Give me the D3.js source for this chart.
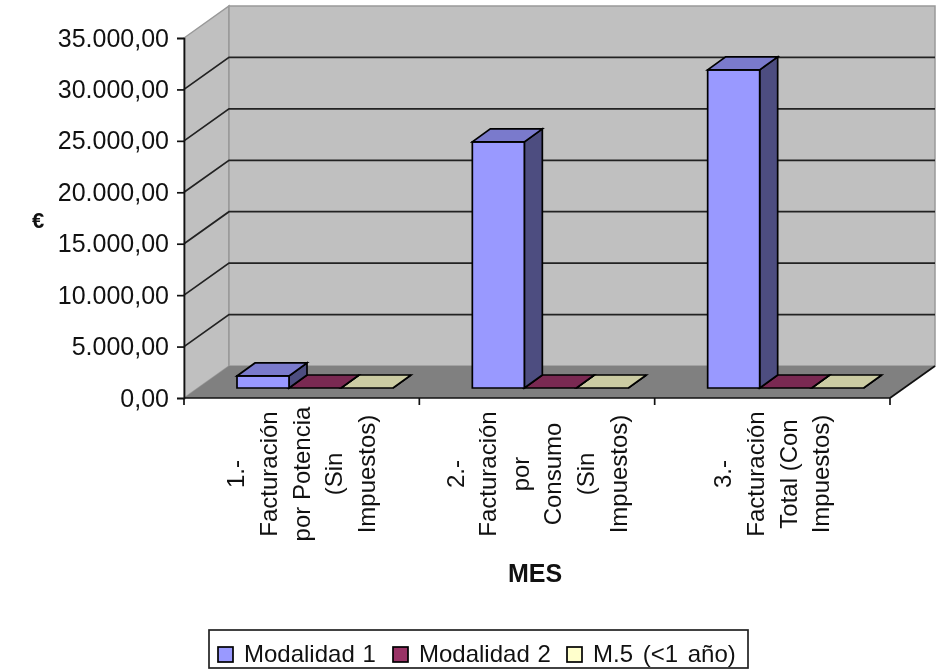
<!DOCTYPE html>
<html>
<head>
<meta charset="utf-8">
<script src="https://cdnjs.cloudflare.com/ajax/libs/d3/7.8.5/d3.min.js"></script>
<style>
  html, body { margin: 0; padding: 0; background: #fff; }
  svg { display: block; filter: blur(0.45px); }
  text { font-family: "Liberation Sans", Arial, sans-serif; fill: #111; }
</style>
</head>
<body>
<svg id="chart" width="951" height="670"></svg>
<script>
var categories = [
  ['1.-', 'Facturación', 'por Potencia', '(Sin', 'Impuestos)'],
  ['2.-', 'Facturación', 'por', 'Consumo', '(Sin', 'Impuestos)'],
  ['3.-', 'Facturación', 'Total (Con', 'Impuestos)']
];
var seriesNames = ['Modalidad 1', 'Modalidad 2', 'M.5 (<1 año)'];
var modalidad1 = [1170, 23930, 30930];
var modalidad2 = [0, 0, 0];
var modalidad5 = [0, 0, 0];
var yTicks = [0, 5000, 10000, 15000, 20000, 25000, 30000, 35000];
var tickLabels = ['0,00', '5.000,00', '10.000,00', '15.000,00', '20.000,00', '25.000,00', '30.000,00', '35.000,00'];
var seriesColors = ['#9999ff', '#993366', '#ffffcc'];

var svg = d3.select('#chart');

// depth of the floor and depth of the bars
var wallDx = 45, wallDy = -32;
var barDx = 18, barDy = -13;

var x = d3.scaleBand().domain([0, 1, 2]).range([184, 890]);
var y = d3.scaleLinear().domain([0, 35000]).range([398, 38]);
var barX = d3.scaleBand().domain([0, 1, 2]).range([53, 209]);
var floorGap = 10;

var pts = function(list) {
  return list.map(function(p) { return p.join(','); }).join(' ');
};

var poly = function(list, fill, stroke, sw) {
  return svg.append('polygon')
    .attr('points', pts(list))
    .attr('fill', fill)
    .attr('stroke', stroke || 'none')
    .attr('stroke-width', sw || 0);
};

var shade = function(color, k) {
  var c = d3.rgb(color);
  return d3.rgb(c.r * k, c.g * k, c.b * k).formatHex();
};

var xLeft = x.range()[0], xRight = x.range()[1];
var yTop = y(35000), yBase = y(0);

// walls and floor
poly([[xLeft, yTop], [xLeft + wallDx, yTop + wallDy], [xLeft + wallDx, yBase + wallDy], [xLeft, yBase]], '#c0c0c0', '#999', 1.5);
poly([[xLeft + wallDx, yTop + wallDy], [xRight + wallDx, yTop + wallDy], [xRight + wallDx, yBase + wallDy], [xLeft + wallDx, yBase + wallDy]], '#c0c0c0', '#999', 1.5);
poly([[xLeft, yBase], [xRight, yBase], [xRight + wallDx, yBase + wallDy], [xLeft + wallDx, yBase + wallDy]], '#808080');

// gridlines
yTicks.slice(1, -1).forEach(function(t) {
  svg.append('polyline')
    .attr('points', pts([[xLeft, y(t)], [xLeft + wallDx, y(t) + wallDy], [xRight + wallDx, y(t) + wallDy]]))
    .attr('fill', 'none')
    .attr('stroke', '#222')
    .attr('stroke-width', 1.7);
});
svg.append('polyline')
  .attr('points', pts([[xRight, yBase], [xRight + wallDx, yBase + wallDy]]))
  .attr('fill', 'none').attr('stroke', '#111').attr('stroke-width', 1.7);

// y axis
var yAxis = svg.append('g').attr('transform', 'translate(' + xLeft + ',0)')
  .call(d3.axisLeft(y).tickValues(yTicks).tickFormat(function(d, i) { return tickLabels[i]; }).tickSize(7));
yAxis.selectAll('text').attr('font-size', 25).attr('x', -15).attr('font-family', '"Liberation Sans"');
yAxis.selectAll('line,path').attr('stroke', '#111').attr('stroke-width', 1.7);

// x axis
var xTicks = [0, 1, 2].map(function(i) { return x(i); }).concat([xRight]);
svg.append('line').attr('x1', xLeft).attr('x2', xRight).attr('y1', yBase).attr('y2', yBase).attr('stroke', '#111').attr('stroke-width', 1.7);
svg.selectAll('.xtick').data(xTicks).enter().append('line')
  .attr('class', 'xtick')
  .attr('x1', function(d) { return d; }).attr('x2', function(d) { return d; })
  .attr('y1', yBase).attr('y2', yBase + 7)
  .attr('stroke', '#111').attr('stroke-width', 1.7);

// bars, back series first so the tall front face overlaps the flat ones
var allSeries = [modalidad5, modalidad2, modalidad1];
var seriesIdx = [2, 1, 0];
allSeries.forEach(function(vals, k) {
  var s = seriesIdx[k];
  vals.forEach(function(v, c) {
    var bw = barX.bandwidth();
    var x0 = x(c) + barX(s), x1 = x0 + bw;
    var yb = yBase - floorGap;
    var yt = y(v) - floorGap;
    poly([[x1, yb], [x1 + barDx, yb + barDy], [x1 + barDx, yt + barDy], [x1, yt]], shade(seriesColors[s], 0.5), '#000', 1.7);
    if (v > 0) {
      poly([[x0, yb], [x1, yb], [x1, yt], [x0, yt]], seriesColors[s], '#000', 1.7);
    }
    poly([[x0, yt], [x1, yt], [x1 + barDx, yt + barDy], [x0 + barDx, yt + barDy]], shade(seriesColors[s], 0.8), '#000', 1.7);
  });
});

// category labels, rotated
var lineStep = 32.6;
categories.forEach(function(lines, c) {
  var cx = x(c) + x.bandwidth() / 2;
  var n = lines.length;
  lines.forEach(function(line, i) {
    var lx = cx + (i - (n - 1) / 2) * lineStep + 8;
    svg.append('text')
      .attr('transform', 'translate(' + lx + ',474) rotate(-90)')
      .attr('text-anchor', 'middle')
      .attr('font-size', 24)
      .text(line);
  });
});

// axis titles
svg.append('text').attr('x', 38).attr('y', 228).attr('text-anchor', 'middle')
  .attr('font-size', 22).attr('font-weight', 'bold').text('€');
svg.append('text').attr('x', 535).attr('y', 582).attr('text-anchor', 'middle')
  .attr('font-size', 25).attr('font-weight', 'bold').text('MES');

// legend
var legend = svg.append('g');
legend.append('rect').attr('x', 209).attr('y', 630).attr('width', 539).attr('height', 38)
  .attr('fill', '#fff').attr('stroke', '#222').attr('stroke-width', 1.7);
var legendX = [218, 393, 567];
seriesNames.forEach(function(name, i) {
  legend.append('rect').attr('x', legendX[i]).attr('y', 647).attr('width', 15).attr('height', 15)
    .attr('fill', seriesColors[i]).attr('stroke', '#000').attr('stroke-width', 1.7);
  legend.append('text').attr('x', legendX[i] + 26).attr('y', 662).attr('font-size', 24)
    .attr('word-spacing', i === 2 ? 3 : 1).text(name);
});
</script>
</body>
</html>
